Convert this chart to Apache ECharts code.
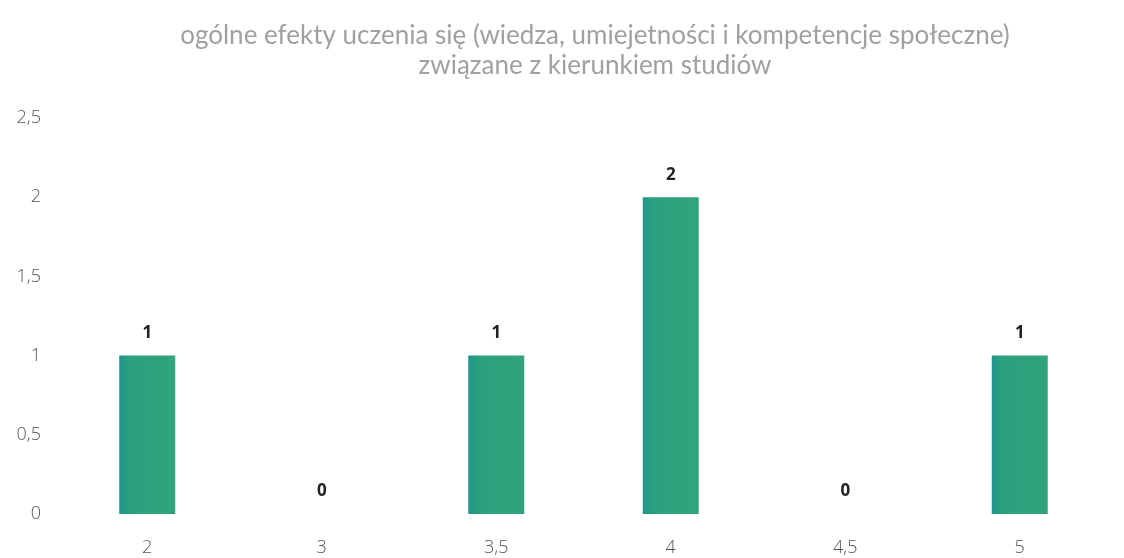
<!DOCTYPE html>
<html>
<head>
<meta charset="utf-8">
<script src="https://cdn.jsdelivr.net/npm/echarts@6/dist/echarts.min.js"></script>
<style>
  html, body { margin: 0; padding: 0; background: #fff; }
  #chart { width: 1124px; height: 558px; }
</style>
</head>
<body>
<div id="chart"></div>
<script>
var titleLines = ['ogólne efekty uczenia się (wiedza, umiejetności i kompetencje społeczne)', 'związane z kierunkiem studiów']
var categories = ['2', '3', '3,5', '4', '4,5', '5']
var values = [1, 0, 1, 2, 0, 1]

var myChart = echarts.init(document.getElementById('chart'))
var option = {
    animation: false,
    title: {
        text: titleLines.join('\n'),
        left: 590,
        textAlign: 'center',
        top: 16,
        textStyle: {
            fontFamily: 'Lato',
            fontSize: 26,
            fontWeight: 'normal',
            color: '#a0a0a0',
            lineHeight: 30
        }
    },
    grid: {
        left: 60,
        right: 17,
        top: 118,
        bottom: 44,
        containLabel: false
    },
    xAxis: {
        type: 'category',
        data: categories,
        axisLine: { show: false },
        axisTick: { show: false },
        axisLabel: {
            margin: 25,
            fontFamily: 'Open Sans',
            fontSize: 18,
            fontWeight: 300,
            color: '#555'
        }
    },
    yAxis: {
        type: 'value',
        min: 0,
        max: 2.5,
        interval: 0.5,
        splitLine: { show: false },
        axisLine: { show: false },
        axisTick: { show: false },
        axisLabel: {
            margin: 19,
            fontFamily: 'Open Sans',
            fontSize: 18,
            fontWeight: 300,
            color: '#555',
            formatter: function (v) { return String(v).replace('.', ',') }
        }
    },
    series: [
        {
            type: 'bar',
            data: values,
            barWidth: 56,
            itemStyle: {
                color: new echarts.graphic.LinearGradient(0, 0, 1, 0, [
                    { offset: 0, color: '#1f9490' },
                    { offset: 0.15, color: '#2aa07e' },
                    { offset: 1, color: '#32a47c' }
                ])
            },
            label: {
                show: true,
                position: 'top',
                distance: 14,
                fontFamily: 'Open Sans',
                fontSize: 17,
                fontWeight: 'bold',
                color: '#222'
            }
        }
    ]
}
myChart.setOption(option)
window.addEventListener('resize', function () {
    myChart.resize()
})
</script>
</body>
</html>
